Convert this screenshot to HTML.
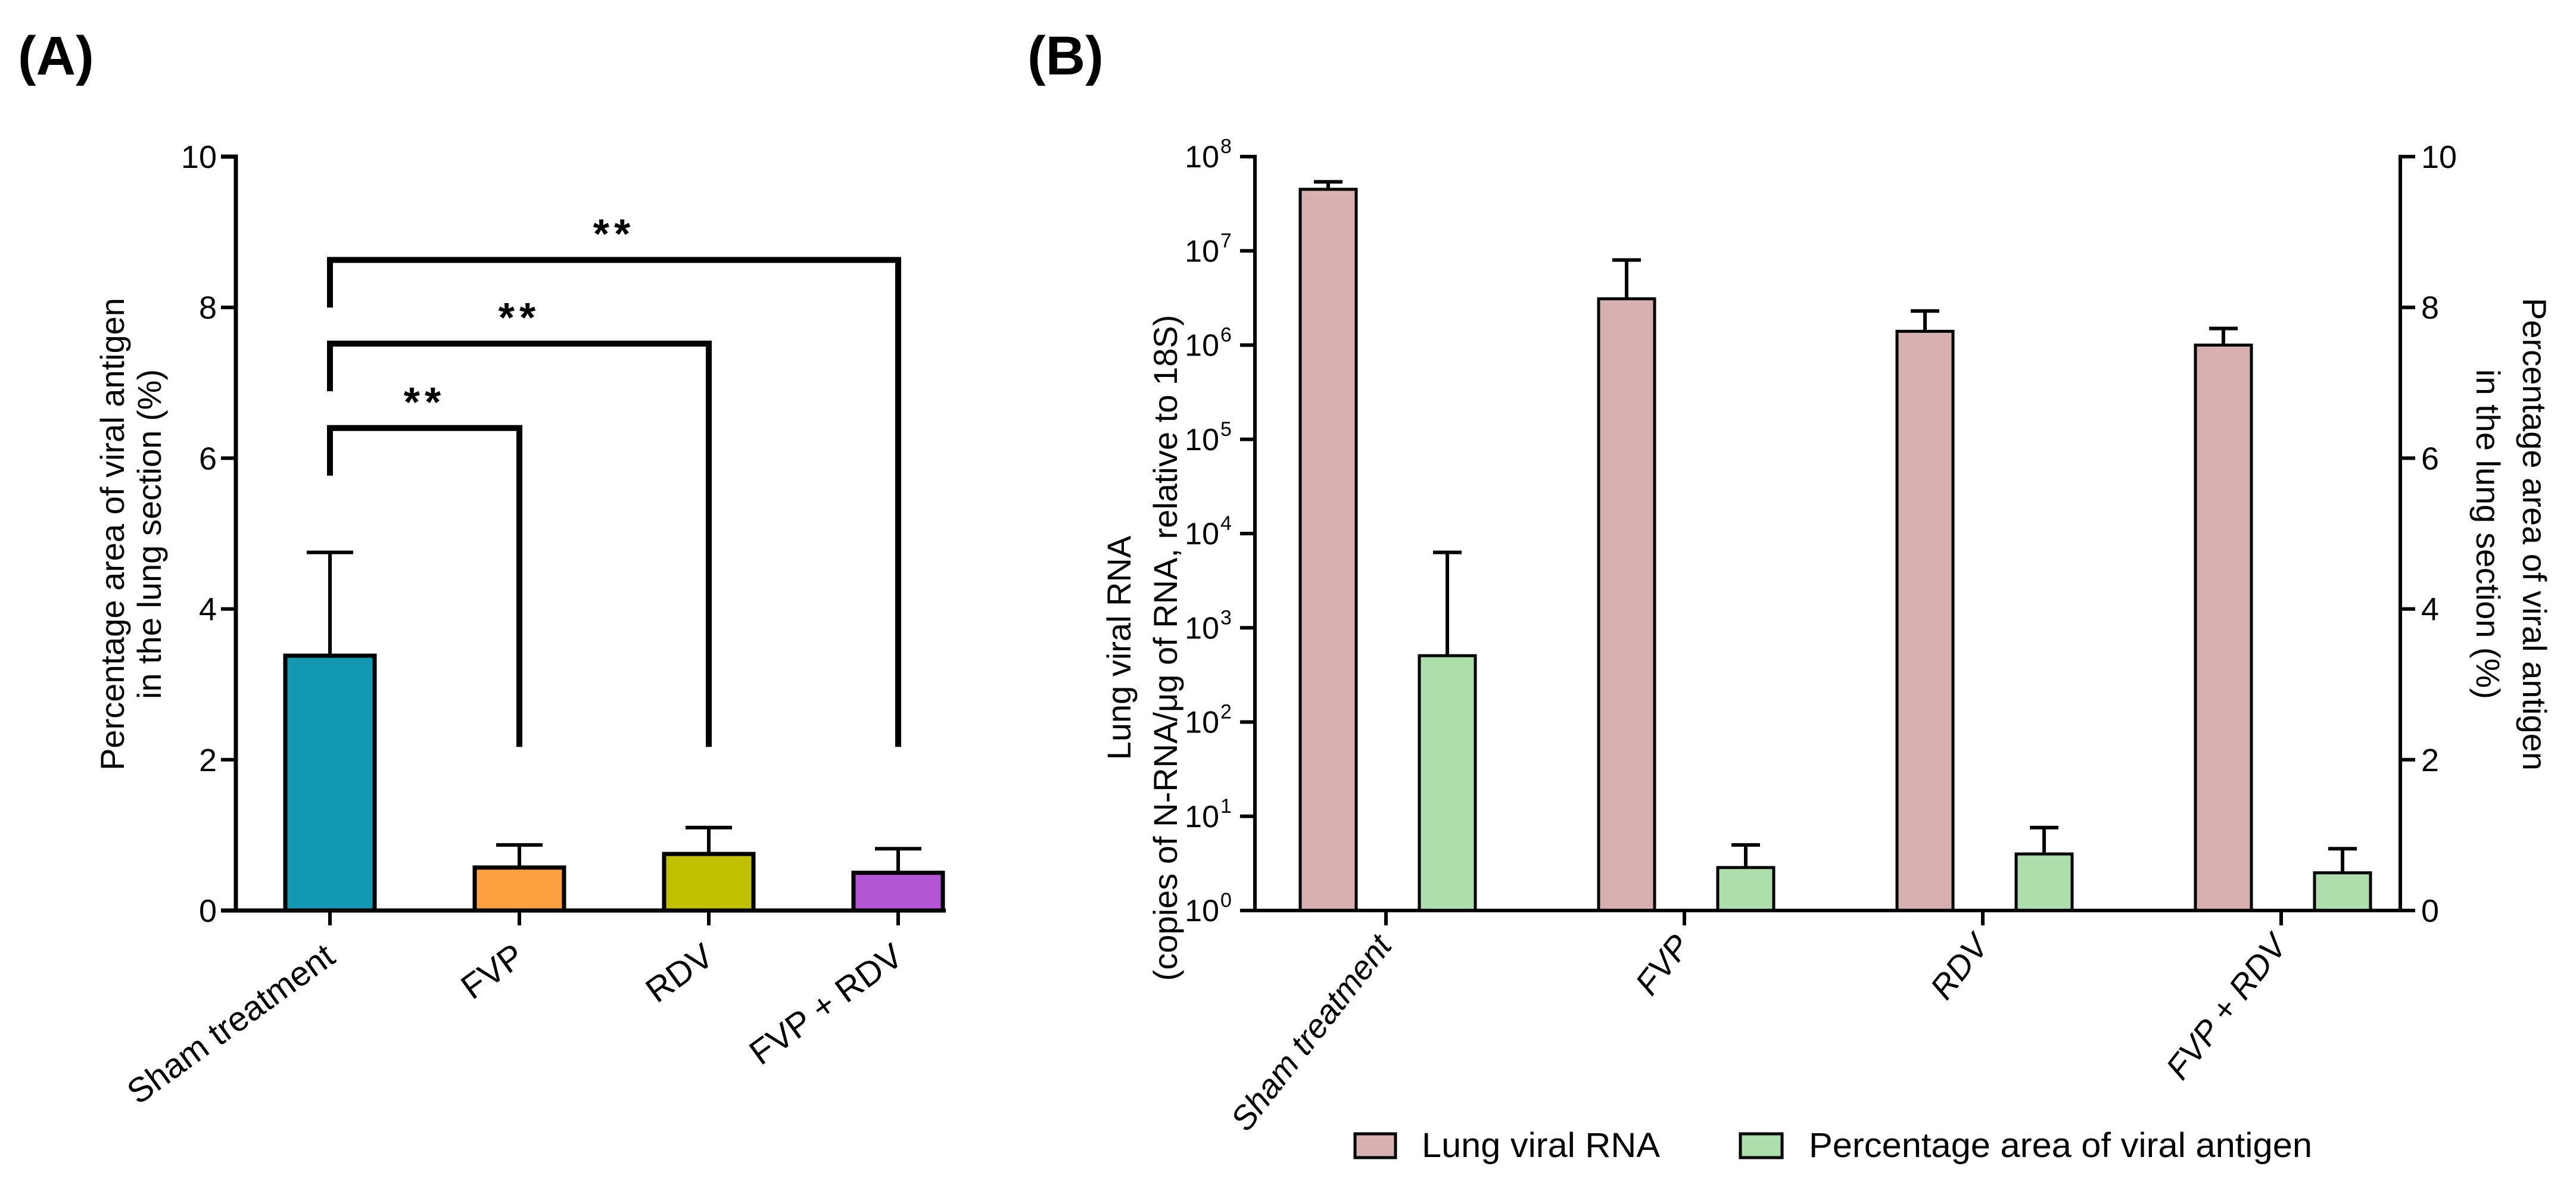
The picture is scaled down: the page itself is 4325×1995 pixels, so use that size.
<!DOCTYPE html>
<html><head><meta charset="utf-8"><style>
html,body{margin:0;padding:0;background:#fff;}
svg{display:block;font-family:"Liberation Sans",sans-serif;}
</style></head><body>
<svg id="chart" width="4325" height="1995" viewBox="0 0 4325 1995" xmlns="http://www.w3.org/2000/svg">
<text x="30" y="125" font-size="92" font-weight="bold">(A)</text>
<text x="1725" y="125" font-size="92" font-weight="bold">(B)</text>
<g id="gA"></g>
<g id="gB"></g>
</svg>
<script>
const categories = ["Sham treatment","FVP","RDV","FVP + RDV"];
const antigenMean = [3.38,0.57,0.75,0.5];
const antigenErr = [4.75,0.87,1.1,0.82];
const rnaMean = [4.5e7,3.1e6,1.4e6,1.0e6];
const rnaErr = [5.4e7,8.0e6,2.3e6,1.5e6];
const linTicks = [0,2,4,6,8,10];
const logTicks = [0,1,2,3,4,5,6,7,8];
const sigPairs = [[0,1],[0,2],[0,3]];
const sigLevels = [6.4,7.52,8.63];
const sigLabels = ["**","**","**"];
const barColorsA = ["#1398b4","#fca040","#c0c000","#b455d6"];

const NS="http://www.w3.org/2000/svg";
function el(parent,tag,attrs,text){const e=document.createElementNS(NS,tag);for(const k in attrs)e.setAttribute(k,attrs[k]);if(text!==undefined)e.textContent=text;parent.appendChild(e);return e;}

const Y0=1529, Y10=263;
const yLin=v=>Y0-(v/10)*(Y0-Y10);
const yLog=v=>Y0-(Math.log10(v)/8)*(Y0-Y10);

// Panel A
const gA=document.getElementById('gA');
const axA=396;
const xA=i=>554+i*318;
categories.forEach((c,i)=>{
  const cx=xA(i), w=150;
  const r=el(gA,'rect',{x:cx-w/2,y:yLin(antigenMean[i]),width:w,height:Y0-yLin(antigenMean[i]),fill:barColorsA[i],stroke:'#000','stroke-width':7});
  
  
  const e=el(gA,'path',{d:`M${cx},${yLin(antigenMean[i])}V${yLin(antigenErr[i])}M${cx-39},${yLin(antigenErr[i])}H${cx+39}`,stroke:'#000','stroke-width':6,fill:'none'});
  
  
  el(gA,'line',{x1:cx,y1:Y0,x2:cx,y2:Y0+25,stroke:'#000','stroke-width':6});
  const t=el(gA,'text',{x:cx+12,y:Y0+85,'font-size':58,'font-style':'normal','text-anchor':'end',transform:`rotate(-36 ${cx+12} ${Y0+85})`},c);
  
  
});
el(gA,'path',{d:`M${axA-25},${Y10}H${axA}V${Y0}M${axA-25},${Y0}H${xA(3)+80}`,stroke:'#000','stroke-width':7,fill:'none'});
linTicks.forEach(v=>{
  el(gA,'line',{x1:axA-25,y1:yLin(v),x2:axA,y2:yLin(v),stroke:'#000','stroke-width':6});
  const t=el(gA,'text',{x:axA-32,y:yLin(v)+19,'font-size':54,'text-anchor':'end'},String(v));
  
  
});
sigPairs.forEach((p,k)=>{
  const x1=xA(p[0]), x2=xA(p[1]), y=yLin(sigLevels[k]);
  const b=el(gA,'path',{d:`M${x1},${y+80}V${y}H${x2}V${yLin(2.17)}`,stroke:'#000','stroke-width':10,fill:'none'});
  
  
  const t=el(gA,'text',{x:(x1+x2)/2,y:y-20,'font-size':70,'font-weight':'bold','text-anchor':'middle','letter-spacing':8},sigLabels[k]);
  
  
});
let tA=el(gA,'text',{transform:'translate(220 897) rotate(-90)','font-size':56,'text-anchor':'middle'});


el(tA,'tspan',{x:0,dy:-12},'Percentage area of viral antigen');
el(tA,'tspan',{x:0,dy:62},'in the lung section (%)');

// Panel B
const gB=document.getElementById('gB');
const axL=2107, axR=4030;
const xB=i=>2327+i*501;
categories.forEach((c,i)=>{
  const cx=xB(i), w=94;
  const pc=cx-97, gc=cx+103;
  const r1=el(gB,'rect',{x:pc-w/2,y:yLog(rnaMean[i]),width:w,height:Y0-yLog(rnaMean[i]),fill:'#d8b0b0',stroke:'#000','stroke-width':5});
  
  
  const e1=el(gB,'path',{d:`M${pc},${yLog(rnaMean[i])}V${yLog(rnaErr[i])}M${pc-24},${yLog(rnaErr[i])}H${pc+24}`,stroke:'#000','stroke-width':6,fill:'none'});
  
  
  const r2=el(gB,'rect',{x:gc-w/2,y:yLin(antigenMean[i]),width:w,height:Y0-yLin(antigenMean[i]),fill:'#acdfac',stroke:'#000','stroke-width':5});
  
  
  const e2=el(gB,'path',{d:`M${gc},${yLin(antigenMean[i])}V${yLin(antigenErr[i])}M${gc-24},${yLin(antigenErr[i])}H${gc+24}`,stroke:'#000','stroke-width':6,fill:'none'});
  
  
  el(gB,'line',{x1:cx,y1:Y0,x2:cx,y2:Y0+25,stroke:'#000','stroke-width':6});
  const t=el(gB,'text',{x:cx+12,y:Y0+60,'font-size':56,'font-style':'italic','text-anchor':'end',transform:`rotate(-52 ${cx+12} ${Y0+60})`},c);
  
  
});
el(gB,'path',{d:`M${axL-25},${Y10}H${axL}V${Y0}H${axR}V${Y10}H${axR+25}`,stroke:'#000','stroke-width':6,fill:'none'});
logTicks.forEach(n=>{
  const y=yLog(Math.pow(10,n));
  el(gB,'line',{x1:axL-25,y1:y,x2:axL,y2:y,stroke:'#000','stroke-width':6});
  const t=el(gB,'text',{x:axL-60,y:y+18,'font-size':52,'text-anchor':'end'},'10');
  
  
  el(gB,'text',{x:axL-58,y:y-6,'font-size':34,'text-anchor':'start'},String(n));
});
linTicks.forEach(v=>{
  el(gB,'line',{x1:axR,y1:yLin(v),x2:axR+25,y2:yLin(v),stroke:'#000','stroke-width':6});
  const t=el(gB,'text',{x:axR+35,y:yLin(v)+19,'font-size':54},String(v));
  
  
});
let tL=el(gB,'text',{transform:'translate(1920 1088) rotate(-90)','font-size':56,'text-anchor':'middle'});


el(tL,'tspan',{x:0,dy:-22},'Lung viral RNA');
el(tL,'tspan',{x:0,dy:78},'(copies of N-RNA/μg of RNA, relative to 18S)');
let tR=el(gB,'text',{transform:'translate(4218 897) rotate(90)','font-size':56,'text-anchor':'middle'});


el(tR,'tspan',{x:0,dy:-18},'Percentage area of viral antigen');
el(tR,'tspan',{x:0,dy:78},'in the lung section (%)');
// legend
const lg=el(gB,'g',{});


el(lg,'rect',{x:2275,y:1904,width:68,height:40,fill:'#d8b0b0',stroke:'#000','stroke-width':5});
const l1=el(lg,'text',{x:2387,y:1943,'font-size':58,textLength:400,lengthAdjust:'spacingAndGlyphs'},'Lung viral RNA');


el(lg,'rect',{x:2922,y:1904,width:70,height:40,fill:'#acdfac',stroke:'#000','stroke-width':5});
const l2=el(lg,'text',{x:3037,y:1943,'font-size':58,textLength:845,lengthAdjust:'spacingAndGlyphs'},'Percentage area of viral antigen');


</script>
</body></html>
